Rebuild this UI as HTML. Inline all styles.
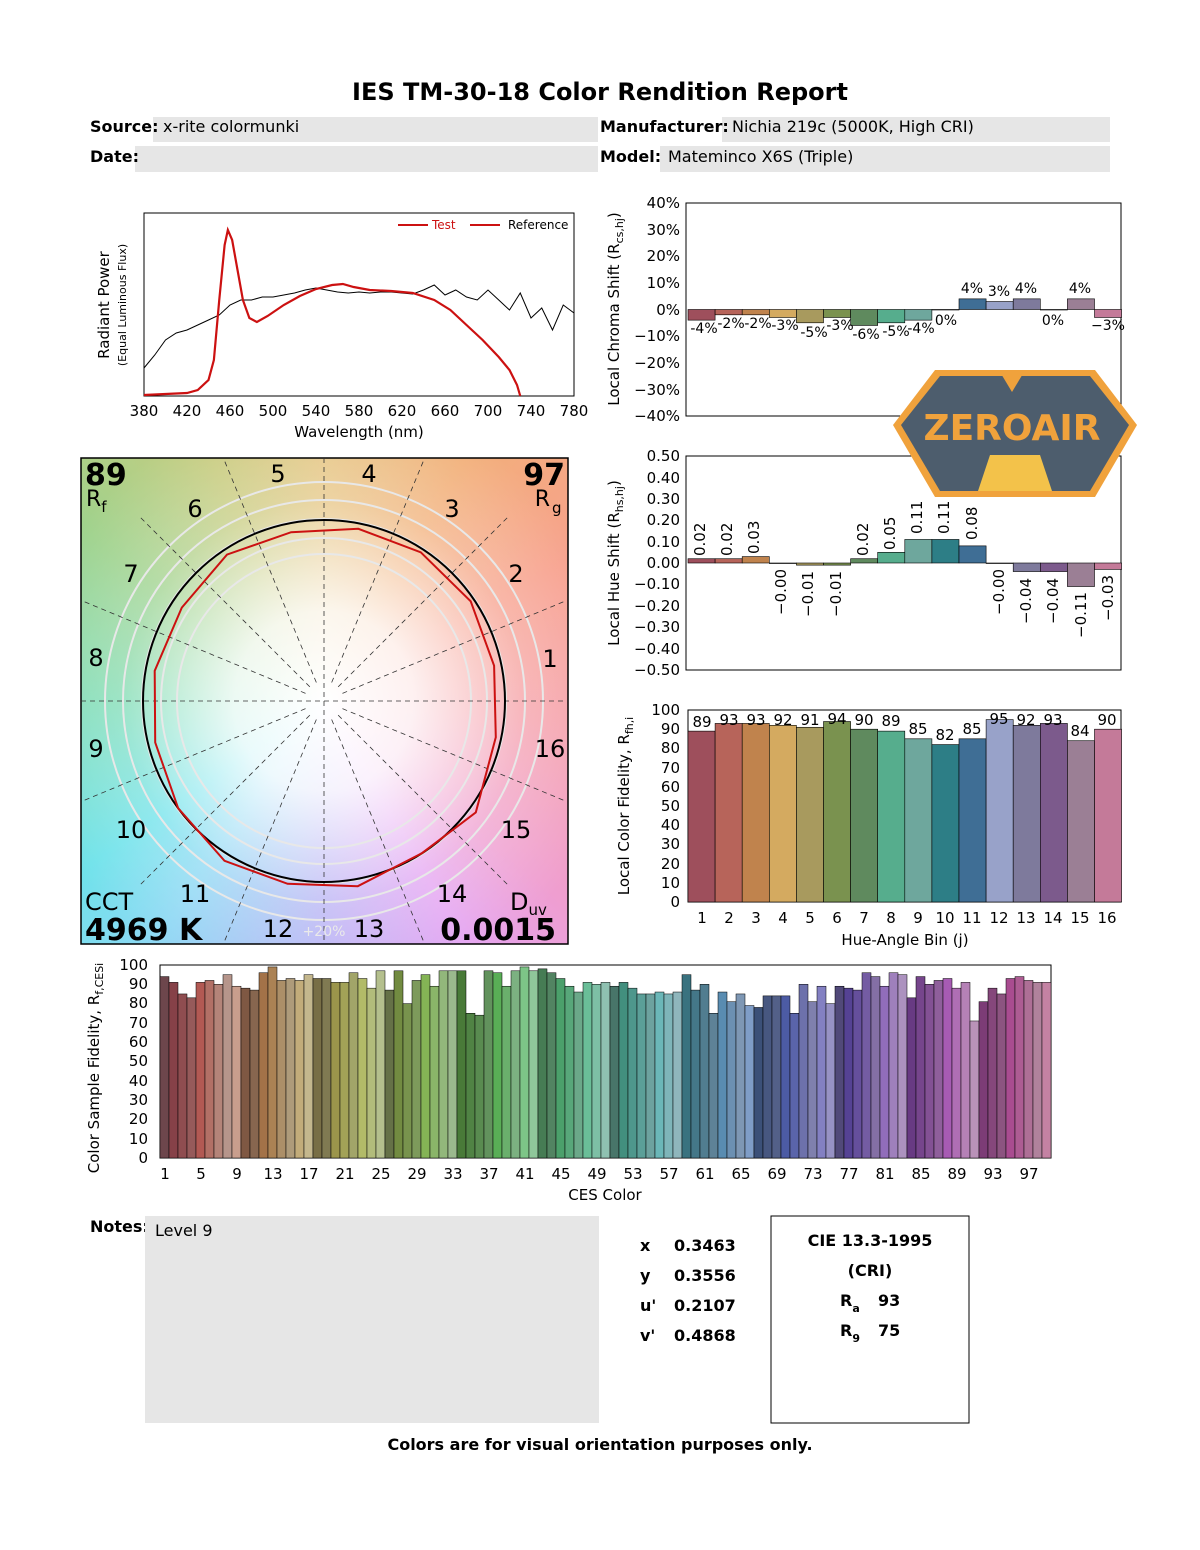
<!DOCTYPE html>
<html><head><meta charset="utf-8">
<style>
html,body{margin:0;padding:0;background:#fff;}
#wrap{position:relative;width:1200px;height:1550px;overflow:hidden;font-family:"DejaVu Sans","Liberation Sans",sans-serif;}
#bg{position:absolute;left:81px;top:458px;width:487px;height:486px;
background:radial-gradient(circle at 243px 243px, rgba(255,255,255,1) 0px, rgba(255,255,255,0.85) 90px, rgba(255,255,255,0.25) 200px, rgba(255,255,255,0) 300px),
conic-gradient(from 0deg at 243px 243px,#e6c684 0deg,#f2b07a 30deg,#f7a08c 60deg,#f59ea8 95deg,#ef9ed0 130deg,#e4a4f2 150deg,#b8b2f4 180deg,#8ed8f4 215deg,#6ee2ea 235deg,#7edcb4 270deg,#9ed28c 305deg,#c8cc80 335deg,#e6c684 360deg);}
svg{position:absolute;left:0;top:0;}
</style></head><body>
<div id="wrap">
<div id="bg"></div>
<svg id="s" width="1200" height="1550" viewBox="0 0 1200 1550" font-family="DejaVu Sans, Liberation Sans, sans-serif">
<text x="600" y="100" text-anchor="middle" font-size="24" font-weight="bold">IES TM-30-18 Color Rendition Report</text>
<rect x="153" y="117" width="445" height="25" fill="#e6e6e6"/>
<rect x="722" y="117" width="388" height="25" fill="#e6e6e6"/>
<rect x="135" y="146" width="463" height="26" fill="#e6e6e6"/>
<rect x="660" y="146" width="450" height="26" fill="#e6e6e6"/>
<g font-size="16">
<text x="90" y="132" font-weight="bold">Source:</text><text x="163" y="132">x-rite colormunki</text>
<text x="600" y="132" font-weight="bold">Manufacturer:</text><text x="732" y="132">Nichia 219c (5000K, High CRI)</text>
<text x="90" y="162" font-weight="bold">Date:</text>
<text x="600" y="162" font-weight="bold">Model:</text><text x="668" y="162">Mateminco X6S (Triple)</text>
</g>

<rect x="144" y="213" width="430" height="183" fill="none" stroke="#000" stroke-width="1"/>
<polyline id="ref" fill="none" stroke="#000" stroke-width="1"/>
<polyline id="tst" fill="none" stroke="#cc1111" stroke-width="2.2"/>
<line x1="398" y1="225" x2="428" y2="225" stroke="#cc1111" stroke-width="2"/>
<text x="432" y="229" font-size="12" fill="#cc1111">Test</text>
<line x1="470" y1="225" x2="500" y2="225" stroke="#cc1111" stroke-width="2"/>
<text x="508" y="229" font-size="12">Reference</text>
<g font-size="15" text-anchor="middle">
<text x="144" y="416">380</text><text x="187" y="416">420</text><text x="230" y="416">460</text><text x="273" y="416">500</text><text x="316" y="416">540</text><text x="359" y="416">580</text><text x="402" y="416">620</text><text x="445" y="416">660</text><text x="488" y="416">700</text><text x="531" y="416">740</text><text x="574" y="416">780</text>
<text x="359" y="437">Wavelength (nm)</text>
</g>
<text transform="translate(109,305) rotate(-90)" text-anchor="middle" font-size="15">Radiant Power</text>
<text transform="translate(126,305) rotate(-90)" text-anchor="middle" font-size="11">(Equal Luminous Flux)</text>

<rect x="686" y="203" width="435" height="213" fill="none" stroke="#000"/>
<g id="chroma"></g>
<g font-size="15" text-anchor="end">
<text x="680" y="208">40%</text><text x="680" y="235">30%</text><text x="680" y="261">20%</text><text x="680" y="288">10%</text><text x="680" y="315">0%</text><text x="680" y="341">−10%</text><text x="680" y="368">−20%</text><text x="680" y="395">−30%</text><text x="680" y="421">−40%</text>
</g>
<g font-size="14" text-anchor="middle">
<text x="704" y="333">-4%</text><text x="731" y="328">-2%</text><text x="758" y="328">-2%</text><text x="785" y="330">-3%</text><text x="814" y="337">-5%</text><text x="840" y="330">-3%</text><text x="866" y="339">-6%</text><text x="896" y="336">-5%</text><text x="921" y="333">-4%</text><text x="946" y="325">0%</text>
<text x="972" y="293">4%</text><text x="999" y="296">3%</text><text x="1026" y="293">4%</text><text x="1053" y="325">0%</text><text x="1080" y="293">4%</text><text x="1108" y="330">−3%</text>
</g>
<text transform="translate(619,309) rotate(-90)" text-anchor="middle" font-size="15">Local Chroma Shift (R<tspan font-size="11" dy="4">cs,hj</tspan><tspan dy="-4">)</tspan></text>

<rect x="686" y="456" width="435" height="214" fill="none" stroke="#000"/>
<g id="hue"></g>
<g font-size="15" text-anchor="end">
<text x="680" y="461">0.50</text><text x="680" y="483">0.40</text><text x="680" y="504">0.30</text><text x="680" y="525">0.20</text><text x="680" y="547">0.10</text><text x="680" y="568">0.00</text><text x="680" y="589">−0.10</text><text x="680" y="611">−0.20</text><text x="680" y="632">−0.30</text><text x="680" y="654">−0.40</text><text x="680" y="675">−0.50</text>
</g>
<g font-size="15">
<text transform="translate(705,556) rotate(-90)">0.02</text>
<text transform="translate(732,556) rotate(-90)">0.02</text>
<text transform="translate(759,554) rotate(-90)">0.03</text>
<text transform="translate(786,569) rotate(-90)" text-anchor="end">−0.00</text>
<text transform="translate(813,571) rotate(-90)" text-anchor="end">−0.01</text>
<text transform="translate(841,571) rotate(-90)" text-anchor="end">−0.01</text>
<text transform="translate(868,556) rotate(-90)">0.02</text>
<text transform="translate(895,550) rotate(-90)">0.05</text>
<text transform="translate(922,534) rotate(-90)">0.11</text>
<text transform="translate(949,534) rotate(-90)">0.11</text>
<text transform="translate(977,540) rotate(-90)">0.08</text>
<text transform="translate(1004,569) rotate(-90)" text-anchor="end">−0.00</text>
<text transform="translate(1031,578) rotate(-90)" text-anchor="end">−0.04</text>
<text transform="translate(1058,578) rotate(-90)" text-anchor="end">−0.04</text>
<text transform="translate(1086,592) rotate(-90)" text-anchor="end">−0.11</text>
<text transform="translate(1113,575) rotate(-90)" text-anchor="end">−0.03</text>
</g>
<text transform="translate(619,563) rotate(-90)" text-anchor="middle" font-size="15">Local Hue Shift (R<tspan font-size="11" dy="4">hs,hj</tspan><tspan dy="-4">)</tspan></text>

<rect x="688" y="710" width="433" height="192" fill="none" stroke="#000"/>
<g id="rf"></g>
<g font-size="15" text-anchor="end">
<text x="680" y="715">100</text><text x="680" y="734">90</text><text x="680" y="753">80</text><text x="680" y="773">70</text><text x="680" y="792">60</text><text x="680" y="811">50</text><text x="680" y="830">40</text><text x="680" y="849">30</text><text x="680" y="869">20</text><text x="680" y="888">10</text><text x="680" y="907">0</text>
</g>
<g font-size="15" text-anchor="middle">
<text x="702" y="727">89</text><text x="729" y="725">93</text><text x="756" y="725">93</text><text x="783" y="725">92</text><text x="810" y="725">91</text><text x="837" y="724">94</text><text x="864" y="725">90</text><text x="891" y="726">89</text><text x="918" y="734">85</text><text x="945" y="740">82</text><text x="972" y="734">85</text><text x="999" y="724">95</text><text x="1026" y="725">92</text><text x="1053" y="725">93</text><text x="1080" y="736">84</text><text x="1107" y="725">90</text>
</g>
<g font-size="15" text-anchor="middle">
<text x="702" y="923">1</text><text x="729" y="923">2</text><text x="756" y="923">3</text><text x="783" y="923">4</text><text x="810" y="923">5</text><text x="837" y="923">6</text><text x="864" y="923">7</text><text x="891" y="923">8</text><text x="918" y="923">9</text><text x="945" y="923">10</text><text x="972" y="923">11</text><text x="999" y="923">12</text><text x="1026" y="923">13</text><text x="1053" y="923">14</text><text x="1080" y="923">15</text><text x="1107" y="923">16</text>
<text x="905" y="945">Hue-Angle Bin (j)</text>
</g>
<text transform="translate(629,806) rotate(-90)" text-anchor="middle" font-size="15">Local Color Fidelity, R<tspan font-size="11" dy="4">fh,i</tspan></text>

<rect x="81" y="458" width="487" height="486" fill="none" stroke="#000" stroke-width="1.5"/>
<g fill="none" stroke="#e8e8e8" stroke-width="2">
<circle cx="324" cy="701" r="147"/><circle cx="324" cy="701" r="163"/><circle cx="324" cy="701" r="182"/><circle cx="324" cy="701" r="201"/><circle cx="324" cy="701" r="219"/>
</g>
<g id="dash" stroke="#333" stroke-width="0.8" stroke-dasharray="5,4"></g>
<circle cx="324" cy="701" r="181" fill="none" stroke="#000" stroke-width="2"/>
<polygon id="poly" fill="none" stroke="#cc1111" stroke-width="2"/>
<g font-size="24" text-anchor="middle">
<text x="550" y="667">1</text><text x="516" y="582">2</text><text x="452" y="517">3</text><text x="369" y="482">4</text><text x="278" y="482">5</text><text x="195" y="517">6</text><text x="131" y="582">7</text><text x="96" y="666">8</text><text x="96" y="757">9</text><text x="131" y="838">10</text><text x="195" y="902">11</text><text x="278" y="937">12</text><text x="369" y="937">13</text><text x="452" y="902">14</text><text x="516" y="838">15</text><text x="550" y="757">16</text>
</g>
<text x="324" y="936" text-anchor="middle" font-size="14" fill="#eaeaea">+20%</text>
<text x="85" y="485" font-size="30" font-weight="bold">89</text>
<text x="86" y="506" font-size="22">R<tspan font-size="15" dy="6">f</tspan></text>
<text x="565" y="485" font-size="30" font-weight="bold" text-anchor="end">97</text>
<text x="550" y="506" font-size="22" text-anchor="end">R</text><text x="552" y="513" font-size="15">g</text>
<text x="85" y="910" font-size="24">CCT</text>
<text x="85" y="940" font-size="30" font-weight="bold">4969 K</text>
<text x="510" y="910" font-size="24">D<tspan font-size="15" dy="5">uv</tspan></text>
<text x="556" y="940" font-size="30" font-weight="bold" text-anchor="end">0.0015</text>

<polygon points="935,370 1095,370 1137,425 1095,497 935,497 893,425" fill="#f0a23c"/>
<polygon points="940,376 1090,376 1129,425 1090,491 940,491 901,425" fill="#4d5d6d"/>
<polygon points="990,455 1040,455 1052,491 978,491" fill="#f3c24a"/>
<text x="1012" y="440" text-anchor="middle" font-size="36" font-weight="bold" fill="#f0a23c">ZEROAIR</text>
<polygon points="1000,372 1024,372 1012,392" fill="#f0a23c"/>

<rect x="160" y="965" width="891" height="193" fill="none" stroke="#000"/>
<g id="ces"></g>
<g font-size="15" text-anchor="end">
<text x="148" y="970">100</text><text x="148" y="989">90</text><text x="148" y="1008">80</text><text x="148" y="1028">70</text><text x="148" y="1047">60</text><text x="148" y="1066">50</text><text x="148" y="1086">40</text><text x="148" y="1105">30</text><text x="148" y="1124">20</text><text x="148" y="1144">10</text><text x="148" y="1163">0</text>
</g>
<g font-size="15" text-anchor="middle">
<text x="165" y="1179">1</text><text x="201" y="1179">5</text><text x="237" y="1179">9</text><text x="273" y="1179">13</text><text x="309" y="1179">17</text><text x="345" y="1179">21</text><text x="381" y="1179">25</text><text x="417" y="1179">29</text><text x="453" y="1179">33</text><text x="489" y="1179">37</text><text x="525" y="1179">41</text><text x="561" y="1179">45</text><text x="597" y="1179">49</text><text x="633" y="1179">53</text><text x="669" y="1179">57</text><text x="705" y="1179">61</text><text x="741" y="1179">65</text><text x="777" y="1179">69</text><text x="813" y="1179">73</text><text x="849" y="1179">77</text><text x="885" y="1179">81</text><text x="921" y="1179">85</text><text x="957" y="1179">89</text><text x="993" y="1179">93</text><text x="1029" y="1179">97</text>
<text x="605" y="1200">CES Color</text>
</g>
<text transform="translate(99,1068) rotate(-90)" text-anchor="middle" font-size="15">Color Sample Fidelity, R<tspan font-size="11" dy="4">f,CESi</tspan></text>

<text x="90" y="1232" font-size="16" font-weight="bold">Notes:</text>
<rect x="145" y="1216" width="454" height="207" fill="#e6e6e6"/>
<text x="155" y="1236" font-size="16">Level 9</text>
<g font-size="16" font-weight="bold">
<text x="640" y="1251">x</text><text x="674" y="1251">0.3463</text>
<text x="640" y="1281">y</text><text x="674" y="1281">0.3556</text>
<text x="640" y="1311">u'</text><text x="674" y="1311">0.2107</text>
<text x="640" y="1341">v'</text><text x="674" y="1341">0.4868</text>
</g>
<rect x="771" y="1216" width="198" height="207" fill="none" stroke="#000"/>
<g font-size="16" font-weight="bold">
<text x="870" y="1246" text-anchor="middle">CIE 13.3-1995</text>
<text x="870" y="1276" text-anchor="middle">(CRI)</text>
<text x="840" y="1306">R<tspan font-size="11" dy="6">a</tspan></text><text x="878" y="1306">93</text>
<text x="840" y="1336">R<tspan font-size="11" dy="6">9</tspan></text><text x="878" y="1336">75</text>
</g>
<text x="600" y="1450" text-anchor="middle" font-size="16" font-weight="bold">Colors are for visual orientation purposes only.</text>
</svg>
</div>
<script>
var NS="http://www.w3.org/2000/svg";
function el(p,t,a){var e=document.createElementNS(NS,t);for(var k in a)e.setAttribute(k,a[k]);p.appendChild(e);return e;}
function wx(w){return 144+(w-380)*430/400;}
var ref=[[380,368],[390,355],[400,340],[410,333],[420,330],[430,325],[440,320],[450,315],[460,305],[470,300],[480,300],[490,297],[500,297],[510,295],[520,293],[530,290],[540,288],[550,290],[560,292],[570,293],[580,292],[590,293],[600,292],[610,292],[620,293],[630,294],[640,290],[650,285],[660,295],[670,290],[680,297],[690,300],[700,290],[710,300],[720,310],[730,293],[740,318],[750,308],[760,330],[770,305],[780,313]];
var tst=[[380,395],[400,394],[420,393],[430,390],[440,380],[445,360],[450,300],[455,245],[458,230],[462,240],[467,270],[472,300],[478,318],[485,322],[495,316],[510,305],[525,296],[540,289],[555,285],[565,284],[575,287],[590,290],[610,291],[630,293],[650,300],[665,310],[680,325],[695,340],[710,357],[720,370],[727,385],[730,396]];
document.getElementById('ref').setAttribute('points',ref.map(function(p){return wx(p[0])+','+p[1]}).join(' '));
document.getElementById('tst').setAttribute('points',tst.map(function(p){return wx(p[0])+','+p[1]}).join(' '));
var cols=['#9e4f5c','#b7645a','#c0834d','#d4aa60','#a89a5e','#7a924f','#5f8a5e','#56ad8d','#6ea79d','#2d7e86','#3f6e95','#98a2c9','#7e7a9c','#7c5a8c','#9b7f95','#c47a99'];
var ch=[-4,-2,-2,-3,-5,-3,-6,-5,-4,0,4,3,4,0,4,-3];
var hs=[.02,.02,.03,0,-.01,-.01,.02,.05,.11,.11,.08,0,-.04,-.04,-.11,-.03];
var rf=[89,93,93,92,91,94,90,89,85,82,85,95,92,93,84,90];
var bw=27.1;
var g=document.getElementById('chroma');
for(var j=0;j<16;j++){var x=688+j*bw,v=ch[j]*2.66;el(g,'rect',{x:x,y:v<0?309.5:309.5-v,width:bw,height:Math.max(Math.abs(v),0.5),fill:cols[j],stroke:'#000','stroke-width':0.6});}
g=document.getElementById('hue');
for(j=0;j<16;j++){x=688+j*bw;v=hs[j]*214;el(g,'rect',{x:x,y:v<0?563:563-v,width:bw,height:Math.max(Math.abs(v),0.5),fill:cols[j],stroke:'#000','stroke-width':0.6});}
g=document.getElementById('rf');
for(j=0;j<16;j++){x=688+j*bw;v=rf[j]*1.92;el(g,'rect',{x:x,y:902-v,width:bw,height:v,fill:cols[j],stroke:'#000','stroke-width':0.6});}
g=document.getElementById('dash');
el(g,'line',{x1:81,y1:701,x2:568,y2:701});el(g,'line',{x1:324,y1:458,x2:324,y2:944});
for(var k=0;k<16;k++){if(k%4==0)continue;var a=k*Math.PI/8;var c=Math.cos(a),s=Math.sin(a);
el(g,'line',{x1:324+20*c,y1:701-20*s,x2:324+260*c,y2:701-260*s});}
var pts=[];for(j=0;j<16;j++){var a=(j+0.5)*Math.PI/8+hs[j]*0.4;var r=181*(1+ch[j]/100);pts.push((324+r*Math.cos(a)).toFixed(1)+','+(701-r*Math.sin(a)).toFixed(1));}
document.getElementById('poly').setAttribute('points',pts.join(' '));
var ces=[94,91,85,83,91,92,90,95,89,88,87,96,99,92,93,92,95,93,93,91,91,96,93,88,97,87,97,80,92,95,89,97,97,97,75,74,97,96,89,97,99,97,98,96,93,89,86,91,90,91,89,91,88,85,85,86,85,86,95,87,90,75,86,81,85,79,78,84,84,84,75,90,81,89,80,89,88,87,96,94,89,96,95,83,94,90,92,93,88,91,71,81,88,85,93,94,92,91,91];
g=document.getElementById('ces');
for(var i=0;i<99;i++){var h=-10+i*340/98;h=(h+360)%360;var L=35+((i*37)%33);var S=22+((i*13)%18);
v=ces[i]*1.93;el(g,'rect',{x:160+i*9,y:1158-v,width:9,height:v,fill:'hsl('+h+','+S+'%,'+L+'%)',stroke:'#000','stroke-width':0.5});}
</script>
</body></html>
